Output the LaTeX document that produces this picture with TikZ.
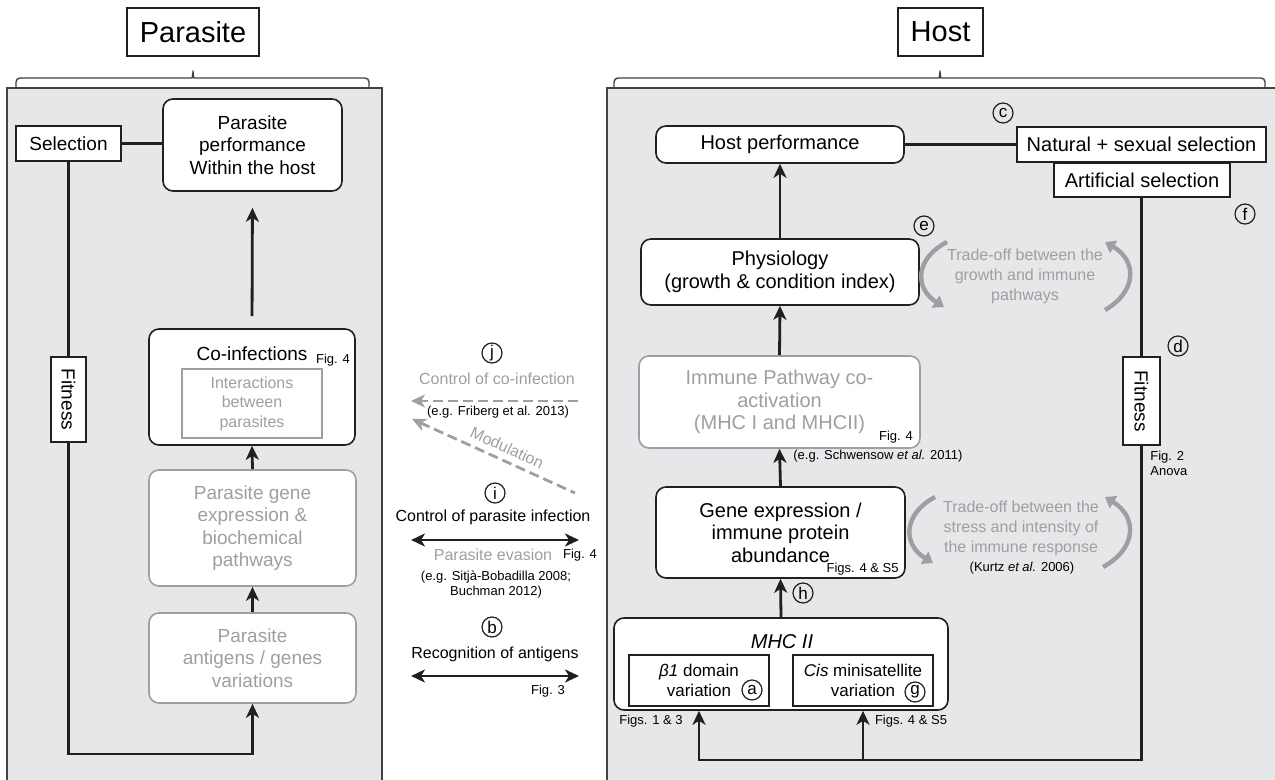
\documentclass[tikz,border=0pt]{standalone}
\usepackage{fontspec}
\setmainfont{Liberation Sans}
\usetikzlibrary{arrows.meta,positioning}
\definecolor{panelgrey}{RGB}{230,231,232}
\definecolor{inkdark}{RGB}{35,31,32}
\definecolor{softgrey}{RGB}{157,159,162}

\begin{document}
\begin{tikzpicture}[x=0.5pt,y=-0.5pt,
  >={Stealth[length=7pt,width=6.5pt,inset=2pt]},
  panel/.style={draw=inkdark!85,line width=0.7pt,fill=panelgrey},
  brace/.style={draw=inkdark!85,line width=0.7pt,rounded corners=2pt},
  title/.style={rectangle,draw=inkdark,line width=0.8pt,fill=white,
    font=\fontsize{14.5}{16}\selectfont},
  box/.style={rectangle,draw=inkdark,line width=0.8pt,fill=white,
    align=center,inner sep=0pt,font=\fontsize{9.5}{11.25}\selectfont},
  rbox/.style={box,rounded corners=5pt},
  gbox/.style={rbox,draw=softgrey,text=softgrey},
  hbox/.style={box,font=\fontsize{10}{11.25}\selectfont},
  hrbox/.style={hbox,rounded corners=5pt},
  tag/.style={circle,draw=inkdark,line width=0.6pt,inner sep=0pt,
    minimum size=10pt,font=\fontsize{8.5}{8.5}\selectfont},
  figtxt/.style={inner sep=0pt,align=left,font=\fontsize{6.5}{7.5}\selectfont},
  midtxt/.style={inner sep=0pt,align=center,font=\fontsize{8}{9}\selectfont},
  tradetxt/.style={inner sep=0pt,align=center,text=softgrey,
    font=\fontsize{8}{10}\selectfont},
  link/.style={draw=inkdark,line width=1.4pt},
  arr/.style={link,->},
  grline/.style={draw=softgrey,line width=1.4pt,dash pattern=on 5pt off 2.5pt},
  swoosh/.style={draw=softgrey,line width=2.2pt,-{Triangle[length=5pt,width=7pt]}}
]
  \useasboundingbox (0,0) rectangle (1275,780);

  % panels and braces
  \draw[panel] (7,88) rectangle (382,792);
  \draw[panel] (607,88) rectangle (1285,792);
  \draw[brace] (16,88) -- (16,78) -- (188,78) to[out=0,in=-90] (193,68)
    to[out=-90,in=180] (198,78) -- (369,78) -- (369,88);
  \draw[brace] (614,88) -- (614,78) -- (935,78) to[out=0,in=-90] (940,68)
    to[out=-90,in=180] (945,78) -- (1265,78) -- (1265,88);
  \node[title,minimum width=66pt,minimum height=24pt] (partitle) at (193,32) {Parasite};
  \node[title,minimum width=42.5pt,minimum height=24pt] (hosttitle) at (940.5,32) {Host};

  % parasite side
  \coordinate (pbot) at (0,754);
  \node[box,minimum width=52.5pt,minimum height=17.5pt] (sel) at (68.5,143.5) {Selection};
  \node[rbox,minimum width=89.5pt,minimum height=46pt] (pperf) at (252.5,145)
    {Parasite\\performance\\Within the host};
  \node[rbox,minimum width=103pt,minimum height=58pt] (coinf) at (252,387) {};
  \node[inner sep=0pt,font=\fontsize{9.5}{11}\selectfont] (coinflab) at (252,354) {Co-infections};
  \node[figtxt] (coinffig) at (333,360) {Fig. 4};
  \node[box,draw=softgrey,text=softgrey,font=\fontsize{8}{9.75}\selectfont,
    minimum width=70pt,minimum height=34.5pt] (interact) at (252,403.5)
    {Interactions\\between\\parasites};
  \node[gbox,minimum width=103.5pt,minimum height=58pt] (pgene) at (252.5,528)
    {Parasite gene\\expression \&\\biochemical\\pathways};
  \node[gbox,minimum width=103.5pt,minimum height=45pt] (antig) at (252.5,658)
    {Parasite\\antigens / genes\\variations};
  \node[box,rotate=-90,minimum width=42.5pt,minimum height=17.5pt] (fitL) at (68.5,399.5) {Fitness};

  \draw[link] (sel.east) -- (sel.east -| pperf.west);
  \draw[link] (sel.south) -- (fitL.west);
  \draw[arr] (fitL.east) |- (antig.south |- pbot) -- (antig.south);
  \draw[arr] (antig.north) -- (pgene.south);
  \draw[arr] (pgene.north) -- (coinf.south);
  \draw[arr,shorten <=6pt,shorten >=8pt] (coinf.north) -- (pperf.south);

  % between the two
  \node[tag] (tagj) at (492,353) {j};
  \node[midtxt,text=softgrey] (coctl) at (497,379) {Control of co-infection};
  \coordinate (jR) at (578,401);
  \coordinate (jL) at (411,401);
  \draw[grline,->] (jR) -- (jL);
  \node[figtxt] (friberg) at (498,412) {(e.g. Friberg et al. 2013)};
  \coordinate (modR) at (575,493);
  \coordinate (modL) at (412,419);
  \draw[grline,<-] (modL) -- node[sloped,above=3pt,pos=0.55,midtxt,text=softgrey] {Modulation} (modR);

  \node[tag] (tagi) at (495,493) {i};
  \node[midtxt] (parctl) at (493,517) {Control of parasite infection};
  \coordinate (iL) at (411,540);
  \coordinate (iR) at (579,540);
  \draw[link,<->] (iL) -- (iR);
  \node[midtxt,text=softgrey] (evasion) at (493,555) {Parasite evasion};
  \node[figtxt] (evfig) at (580,555) {Fig. 4};
  \node[figtxt,align=center] (sitja) at (496,584.5) {(e.g. Sitjà-Bobadilla 2008;\\Buchman 2012)};

  \node[tag] (tagb) at (492,627) {b};
  \node[midtxt] (recog) at (495,654) {Recognition of antigens};
  \coordinate (bL) at (411,676);
  \coordinate (bR) at (579,676);
  \draw[link,<->] (bL) -- (bR);
  \node[figtxt] (recfig) at (548,691) {Fig. 3};

  % host side
  \coordinate (hbot) at (0,760);
  \node[hrbox,minimum width=124pt,minimum height=18.5pt] (hperf) at (780,144.5) {Host performance};
  \node[hbox,minimum width=124.5pt,minimum height=17.5pt] (natsel) at (1141.5,144.5) {Natural + sexual selection};
  \node[hbox,minimum width=88pt,minimum height=17pt] (artsel) at (1142,180) {Artificial selection};
  \node[tag] (tagc) at (1003,113) {c};
  \node[tag] (tagf) at (1245,214) {f};
  \node[hrbox,minimum width=139pt,minimum height=33pt] (phys) at (780,272)
    {Physiology\\(growth \& condition index)};
  \node[tag] (tage) at (924,226) {e};
  \node[tradetxt] (tradeA) at (1025,276) {Trade-off between the\\growth and immune\\pathways};
  \node[hrbox,draw=softgrey,text=softgrey,minimum width=140.5pt,minimum height=46pt] (immune) at (779.5,402)
    {Immune Pathway co-\\activation\\(MHC I and MHCII)};
  \node[figtxt] (immfig) at (896,437) {Fig. 4};
  \node[figtxt,anchor=west] (schw) at (793,456) {(e.g. Schwensow \textit{et al.} 2011)};
  \node[hrbox,minimum width=124.5pt,minimum height=45.5pt] (gene) at (780.5,532.5)
    {Gene expression /\\immune protein\\abundance};
  \node[figtxt,anchor=east] (genefig) at (899,569) {Figs. 4 \& S5};
  \node[tradetxt] (tradeB) at (1021,528) {Trade-off between the\\stress and intensity of\\the immune response};
  \node[figtxt] (kurtz) at (1022,568) {(Kurtz \textit{et al.} 2006)};
  \node[tag] (tagh) at (803,593) {h};
  \node[hrbox,minimum width=167pt,minimum height=46pt] (mhc) at (781,664) {};
  \node[inner sep=0pt,font=\fontsize{10}{11}\selectfont\itshape] (mhclab) at (782,642) {MHC II};
  \node[box,font=\fontsize{8.5}{10}\selectfont,minimum width=70pt,minimum height=25.5pt] (beta) at (699,680.5)
    {\textit{β1} domain\\variation};
  \node[box,font=\fontsize{8.5}{10}\selectfont,minimum width=70pt,minimum height=25.5pt] (cis) at (863,680.5)
    {\textit{Cis} minisatellite\\variation};
  \node[tag] (taga) at (752,690) {a};
  \node[tag] (tagg) at (915,692) {g};
  \node[figtxt] (betafig) at (651,721) {Figs. 1 \& 3};
  \node[figtxt] (cisfig) at (911,721) {Figs. 4 \& S5};
  \node[box,rotate=-90,minimum width=44pt,minimum height=18.5pt] (fitR) at (1141.5,401) {Fitness};
  \node[tag] (tagd) at (1178,346) {d};
  \node[figtxt,anchor=west] (anova) at (1150,463) {Fig. 2\\Anova};

  \draw[link] (hperf.east) -- (natsel.west);
  \draw[arr] (phys.north) -- (hperf.south);
  \draw[arr] (immune.north) -- (phys.south);
  \draw[arr] (gene.north) -- (immune.south);
  \draw[arr] (mhc.north) -- (gene.south);
  \draw[link] (fitR.west |- artsel.south) -- (fitR.west);
  \draw[arr] (fitR.east) |- (beta.south |- hbot) -- (beta.south |- mhc.south);
  \draw[arr] (cis.south |- hbot) -- (cis.south |- mhc.south);

  % trade-off swooshes
  \draw[swoosh] (947,242) to[bend right=60,looseness=1.4] (944,307);
  \draw[swoosh] (1105,310) to[bend right=60,looseness=1.4] (1105,242);
  \draw[swoosh] (935,497) to[bend right=60,looseness=1.4] (933,563);
  \draw[swoosh] (1103,567) to[bend right=60,looseness=1.4] (1105,497);
\end{tikzpicture}
\end{document}
